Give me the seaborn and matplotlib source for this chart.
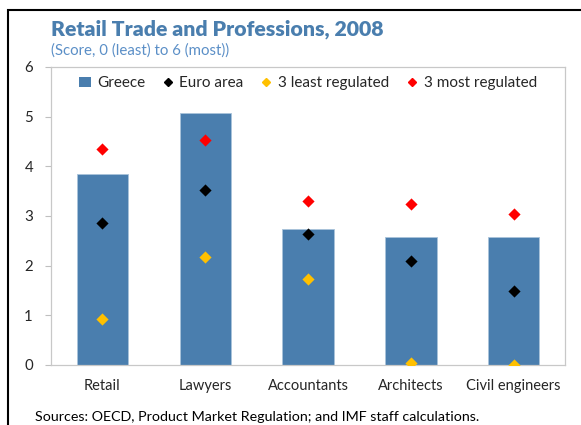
"""
Retail trade and professions regulation scores, 2008 (Greece vs euro area).
"""

import pandas as pd
import matplotlib.pyplot as plt
import seaborn as sns
from matplotlib.lines import Line2D
from matplotlib.patches import Patch, Rectangle

# Data
categories = ['Retail', 'Lawyers', 'Accountants', 'Architects', 'Civil engineers']
greece = [3.85, 5.08, 2.74, 2.57, 2.57]
euro_area = [2.85, 3.53, 2.64, 2.09, 1.50]
least_regulated = [0.93, 2.18, 1.73, 0.05, 0.0]
most_regulated = [4.35, 4.54, 3.30, 3.25, 3.04]

series_names = ['Euro area', '3 least regulated', '3 most regulated']
series_colors = ['#000000', '#ffc000', '#ff0000']

BAR_COLOR = '#4a7eae'
TITLE_COLOR = '#4a7eae'

sns.set_style("white")
plt.rcParams['font.family'] = ['Lato', 'DejaVu Sans']


def build_points():
    """Long-form table of the marker series."""
    rows = []
    for name, vals in zip(series_names, [euro_area, least_regulated, most_regulated]):
        for cat, v in zip(categories, vals):
            rows.append({'category': cat, 'series': name, 'value': v})
    return pd.DataFrame(rows)


def main():
    fig = plt.figure(figsize=(5.81, 4.25), dpi=100)
    ax = fig.add_axes([51 / 581, 1 - 365 / 425, (565 - 51) / 581, (365 - 67) / 425])

    bars = pd.DataFrame({'category': categories, 'value': greece})
    sns.barplot(data=bars, x='category', y='value', order=categories,
                color=BAR_COLOR, width=0.5, saturation=1, ax=ax,
                edgecolor='#a9c3da', linewidth=0.6)

    pts = build_points()
    for name, col in zip(series_names, series_colors):
        sub = pts[pts['series'] == name]
        sns.stripplot(data=sub, x='category', y='value', order=categories,
                      jitter=False, marker='D', size=6.2, color=col,
                      linewidth=0, ax=ax, zorder=3)

    ax.set_ylim(0, 6)
    ax.set_xlim(-0.5, 4.5)
    ax.set_yticks(range(0, 7))
    ax.set_xlabel('')
    ax.set_ylabel('')
    ax.tick_params(axis='y', labelsize=10.8, length=4, color='#bfbfbf', pad=9,
                   left=True, direction='out')
    ax.tick_params(axis='x', labelsize=10.5, length=0, pad=10)
    for spine in ax.spines.values():
        spine.set_color('#c8c8c8')
        spine.set_linewidth(0.9)
        spine.set_visible(True)

    handles = [Patch(facecolor=BAR_COLOR, edgecolor='none', label='Greece')]
    for name, col in zip(series_names, series_colors):
        handles.append(Line2D([], [], marker='D', color=col, linestyle='none',
                              markersize=4.5, label=name))
    ax.legend(handles=handles, loc='upper center', ncol=4, frameon=False,
              fontsize=11, bbox_to_anchor=(0.5, 1.015), handlelength=0.8,
              handletextpad=0.35, columnspacing=1.1)

    fig.text(51 / 581, 1 - 29 / 425, 'Retail Trade and Professions, 2008',
             fontsize=15.3, fontweight='heavy', color=TITLE_COLOR, va='center')
    fig.text(51 / 581, 1 - 51 / 425, '(Score, 0 (least) to 6 (most))',
             fontsize=10.8, color='#5b8fc7', va='center')
    fig.text(35 / 581, 1 - 417 / 425,
             'Sources: OECD, Product Market Regulation; and IMF staff calculations.',
             fontsize=10.3, color='#000000', va='center')

    # outer frame of the panel
    fig.patches.append(Rectangle((8 / 581, -0.1), 1.2, 1 - 10 / 425 + 0.1,
                                 transform=fig.transFigure, fill=False,
                                 edgecolor='black', linewidth=1.5))

    fig.savefig('out.png', dpi=100)


if __name__ == "__main__":
    main()
